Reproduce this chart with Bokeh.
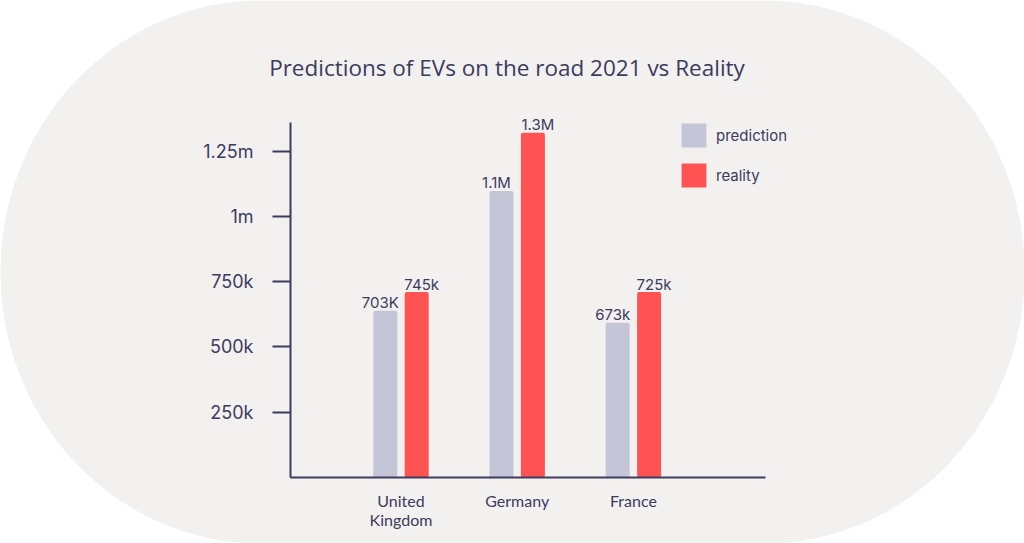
import numpy as np
from bokeh.plotting import figure
from bokeh.models import (ColumnDataSource, LinearAxis, FixedTicker, Legend, LegendItem,
                          Label, Range1d)
from bokeh.transform import dodge
from bokeh.core.properties import value
from bokeh.embed import file_html
from bokeh.resources import INLINE

# ---------------- data ----------------
COUNTRIES = ["United\nKingdom", "Germany", "France"]
PREDICTION = [638000, 1097000, 592000]
REALITY = [710000, 1320000, 710000]
PRED_LABELS = ["703K", "1.1M", "673k"]
REAL_LABELS = ["745k", "1.3M", "725k"]
Y_TICKS = [250000, 500000, 750000, 1000000, 1250000]
Y_TICK_LABELS = ["250k", "500k", "750k", "1m", "1.25m"]
SERIES = ["prediction", "reality"]
TITLE = "Predictions of EVs on the road 2021 vs Reality"

# ---------------- styling / geometry ----------------
W, H = 1024, 543
INK = "#3c3b5d"
GREY_BAR = "#c4c5d7"
RED_BAR = "#ff5252"
BG = "#f2f1f0"

# map page pixels to data space
X0_PX, X_STEP = 400.5, 116.2
Y0_PX, Y_SCALE = 477.0, 0.0002612


def px_to_x(px):
    return (px - X0_PX) / X_STEP


def px_to_y(py):
    return (Y0_PX - py) / Y_SCALE


x_idx = list(range(len(COUNTRIES)))
src = ColumnDataSource(dict(
    x=x_idx, pred=PREDICTION, real=REALITY,
    pred_lbl=PRED_LABELS, real_lbl=REAL_LABELS,
))

p = figure(width=W, height=H, output_backend="svg", toolbar_location=None,
           x_axis_type=None, y_axis_type=None,
           x_range=Range1d(px_to_x(0), px_to_x(W)),
           y_range=Range1d(px_to_y(H), px_to_y(0)),
           min_border=0)
p.background_fill_color = "white"
p.border_fill_color = "white"
p.outline_line_color = None

# stadium-shaped background (decoration)
t_left = np.linspace(np.pi / 2, 3 * np.pi / 2, 120)
t_right = np.linspace(-np.pi / 2, np.pi / 2, 120)
rx, ry, cy = 260.0, 271.5, 271.5
bx = np.concatenate([260 + rx * np.cos(t_left), 764 + rx * np.cos(t_right)])
by = np.concatenate([cy - ry * np.sin(t_left), cy - ry * np.sin(t_right)])
p.patch(px_to_x(bx), px_to_y(by), fill_color=BG, line_color=None)

BAR_W = 24 / X_STEP
OFF = 15.7 / X_STEP
r_pred = p.vbar(x=dodge("x", -OFF), top="pred", width=BAR_W, bottom=0, source=src,
                fill_color=GREY_BAR, line_color=None, border_radius=2)
r_real = p.vbar(x=dodge("x", OFF), top="real", width=BAR_W, bottom=0, source=src,
                fill_color=RED_BAR, line_color=None, border_radius=2)

lbl_style = dict(text_font=value("Inter"), text_font_size="15px", text_color=INK,
                 text_align="center", text_baseline="alphabetic", y_offset=-8)
p.text(x=dodge("x", -OFF), y="pred", text="pred_lbl", source=src, x_offset=-5, **lbl_style)
p.text(x=dodge("x", OFF), y="real", text="real_lbl", source=src, x_offset=5, **lbl_style)

# axes
yaxis = LinearAxis(fixed_location=px_to_x(290), bounds=(0, px_to_y(122)))
yaxis.ticker = FixedTicker(ticks=Y_TICKS, minor_ticks=[])
yaxis.major_label_overrides = {t: l for t, l in zip(Y_TICKS, Y_TICK_LABELS)}
yaxis.axis_line_color = INK
yaxis.axis_line_width = 2
yaxis.major_tick_line_color = INK
yaxis.major_tick_line_width = 2
yaxis.major_tick_out = 18
yaxis.major_tick_in = 0
yaxis.minor_tick_line_color = None
yaxis.major_label_standoff = 19
yaxis.major_label_text_font = "Inter"
yaxis.major_label_text_font_size = "18px"
yaxis.major_label_text_color = INK
p.add_layout(yaxis, "left")

xaxis = LinearAxis(fixed_location=0, bounds=(px_to_x(290), px_to_x(765)))
xaxis.ticker = FixedTicker(ticks=x_idx, minor_ticks=[])
xaxis.major_label_overrides = {i: c for i, c in zip(x_idx, COUNTRIES)}
xaxis.axis_line_color = INK
xaxis.axis_line_width = 2
xaxis.major_tick_line_color = None
xaxis.major_tick_out = 0
xaxis.major_tick_in = 0
xaxis.minor_tick_line_color = None
xaxis.major_label_standoff = 13
xaxis.major_label_text_font = "Lato"
xaxis.major_label_text_font_size = "16px"
xaxis.major_label_text_line_height = 1.05
xaxis.major_label_text_color = INK
p.add_layout(xaxis, "below")

# legend (legend swatch is drawn at 80% of the glyph box)
legend = Legend(items=[LegendItem(label=SERIES[0], renderers=[r_pred]),
                       LegendItem(label=SERIES[1], renderers=[r_real])],
                location=(678, 353), orientation="vertical",
                glyph_width=31, glyph_height=30, label_standoff=7, spacing=10,
                padding=0, margin=0,
                background_fill_alpha=0, border_line_alpha=0,
                label_text_font="Inter", label_text_font_size="15px",
                label_text_color=INK)
p.add_layout(legend, "center")

# title
p.add_layout(Label(x=506.5, y=H - 67, x_units="screen", y_units="screen",
                   text=TITLE, text_align="center", text_baseline="alphabetic",
                   text_font="Open Sans", text_font_size="22.5px", text_color=INK))

open("out.html", "w").write(file_html(p, INLINE))
